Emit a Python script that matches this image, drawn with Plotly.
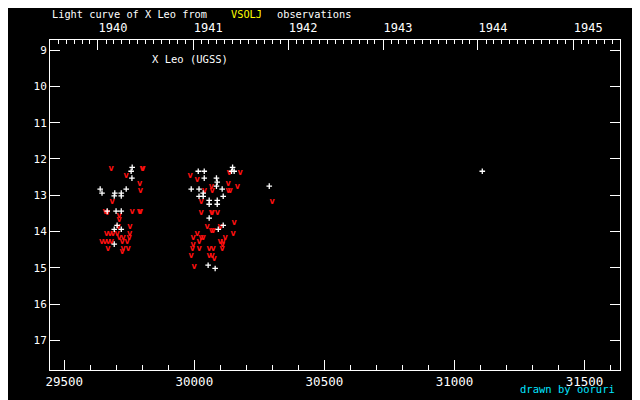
import datetime
import plotly.graph_objects as go

# ---- data (JD - 2400000, visual magnitude) ----
VIS_JD = [29761, 29757, 29760, 29638, 29645, 29694, 29692, 29719, 29719, 29738,
          29665, 29699, 29719, 29703, 29692, 29719, 29692,
          30147, 30143, 30153, 30015, 30038, 30038, 30085, 30088, 30085, 29988,
          30018, 30107, 30034, 30018, 30034, 30111, 30057, 30088, 30057, 30088,
          30057, 30111, 30092, 30053, 30080,
          30288, 31107]
VIS_MAG = [12.23, 12.34, 12.53, 12.83, 12.94, 12.94, 13.02, 12.94, 13.02, 12.83,
           13.44, 13.44, 13.44, 13.83, 13.94, 13.94, 14.35,
           12.23, 12.34, 12.34, 12.34, 12.34, 12.53, 12.53, 12.64, 12.75, 12.83,
           12.83, 12.83, 12.94, 13.03, 13.03, 13.03, 13.14, 13.14, 13.25, 13.25,
           13.63, 13.83, 13.94, 14.93, 15.02,
           12.75, 12.34]

FAINT_JD = [29680, 29799, 29802, 29738, 29790, 29792, 29684, 29657, 29665, 29761,
            29789, 29792, 29711, 29711, 29752, 29707, 29662, 29675, 29687, 29703,
            29751, 29711, 29726, 29749, 29643, 29656, 29668, 29681, 29722, 29741,
            29667, 29726, 29745, 29722,
            29984, 30011, 30134, 30176, 30065, 30068, 30038, 30130, 30165, 30130,
            30137, 30026, 30026, 30065, 30068, 30088, 30153, 30049, 30065, 30072,
            30099, 30011, 30149, 30118, 29995, 30026, 30034, 30018, 30099, 30111,
            29995, 30057, 30072, 29992, 30018, 30107, 30076, 29988, 30057, 30068,
            29999, 30108,
            30299]
FAINT_MAG = [12.28, 12.28, 12.28, 12.48, 12.70, 12.89, 13.19, 13.47, 13.50, 13.47,
             13.47, 13.47, 13.58, 13.69, 13.88, 13.88, 14.07, 14.07, 14.07, 14.07,
             14.08, 14.19, 14.19, 14.19, 14.30, 14.30, 14.30, 14.30, 14.30, 14.30,
             14.49, 14.49, 14.49, 14.57,
             12.48, 12.59, 12.39, 12.39, 12.78, 12.89, 12.89, 12.70, 12.78, 12.89,
             12.89, 13.19, 13.50, 13.50, 13.50, 13.50, 13.77, 13.88, 13.99, 13.99,
             13.88, 14.08, 14.08, 14.19, 14.19, 14.19, 14.19, 14.30, 14.30, 14.30,
             14.38, 14.49, 14.49, 14.49, 14.49, 14.49, 14.77, 14.68, 14.68, 14.68,
             14.99, 14.38,
             13.18]

JD_TICKS = [29500, 30000, 30500, 31000, 31500]
MAG_TICKS = [9, 10, 11, 12, 13, 14, 15, 16, 17]
YEARS = [1940, 1941, 1942, 1943, 1944, 1945]

X_RANGE = [29445, 31636.5]
Y_RANGE = [17.82, 8.72]


def jd_of(y, m):
    mjd = (datetime.date(y, m, 1) - datetime.date(1858, 11, 17)).days
    return mjd + 0.5


year_vals = [jd_of(y, 1) for y in YEARS]
month_vals = [jd_of(y, m) for y in range(1939, 1947) for m in range(2, 13)]

MONO = "DejaVu Sans Mono"

fig = go.Figure()
fig.add_trace(go.Scatter(
    x=FAINT_JD, y=FAINT_MAG, mode="text", text=["v"] * len(FAINT_JD),
    textposition="middle center",
    textfont=dict(family="DejaVu Sans", size=8, color="#ff1010",
                  weight="bold"),
    hoverinfo="skip", showlegend=False))
fig.add_trace(go.Scatter(
    x=VIS_JD, y=VIS_MAG, mode="markers",
    marker=dict(symbol="cross-thin", size=4, color="#ffffff",
                line=dict(width=1.3, color="#ffffff")),
    hoverinfo="skip", showlegend=False))
# empty trace to attach the top (year) axis
fig.add_trace(go.Scatter(x=[None], y=[None], xaxis="x2", mode="markers",
                         showlegend=False, hoverinfo="skip"))

axis_common = dict(showgrid=False, zeroline=False, showline=True,
                   linecolor="white", linewidth=1, ticks="inside",
                   tickcolor="white", tickwidth=1)

TITLE_Y = (370 - 14) / 330

# the page adds an 8px body margin, so the figure is 8px smaller
fig.update_layout(
    width=632, height=392,
    margin=dict(l=42, r=20, t=32, b=30),
    paper_bgcolor="black", plot_bgcolor="black",
    xaxis=dict(range=X_RANGE, tickvals=JD_TICKS,
               ticktext=[str(v) for v in JD_TICKS], ticklen=10, mirror=True,
               tickfont=dict(family=MONO, size=12.5, color="white"),
               minor=dict(dtick=100, tick0=29500, ticks="inside", ticklen=5,
                          tickcolor="white", tickwidth=1),
               **axis_common),
    xaxis2=dict(range=X_RANGE, overlaying="x", side="top", anchor="y",
                tickvals=year_vals, ticktext=[str(y) for y in YEARS],
                ticklen=10, ticklabelshift=15, ticklabelstandoff=2,
                tickfont=dict(family=MONO, size=12, color="white"),
                minor=dict(tickvals=month_vals, ticks="inside", ticklen=4,
                           tickcolor="white", tickwidth=1),
                **axis_common),
    yaxis=dict(range=Y_RANGE, tickvals=MAG_TICKS, ticklen=10, mirror="ticks",
               tickfont=dict(family=MONO, size=11, color="white"),
               **axis_common),
    annotations=[
        dict(text="Light curve of X Leo from", x=0, y=TITLE_Y, xref="paper",
             yref="paper", xanchor="left", yanchor="middle", showarrow=False,
             font=dict(family=MONO, size=10.3, color="white")),
        dict(text="VSOLJ", x=0.314, y=TITLE_Y, xref="paper", yref="paper",
             xanchor="left", yanchor="middle", showarrow=False,
             font=dict(family=MONO, size=10.3, color="#ffff00")),
        dict(text="observations", x=0.395, y=TITLE_Y, xref="paper",
             yref="paper", xanchor="left", yanchor="middle", showarrow=False,
             font=dict(family=MONO, size=10.3, color="white")),
        dict(text="X Leo (UGSS)", x=(150 - 50) / 570, y=(370 - 59) / 330,
             xref="paper", yref="paper", xanchor="left", yanchor="middle",
             showarrow=False,
             font=dict(family=MONO, size=10.5, color="white")),
        dict(text="drawn by ooruri", x=(617 - 50) / 570, y=(370 - 389) / 330,
             xref="paper", yref="paper", xanchor="right", yanchor="middle",
             showarrow=False,
             font=dict(family=MONO, size=10.5, color="#00e5ff")),
    ],
)

fig.write_html("out.html")
